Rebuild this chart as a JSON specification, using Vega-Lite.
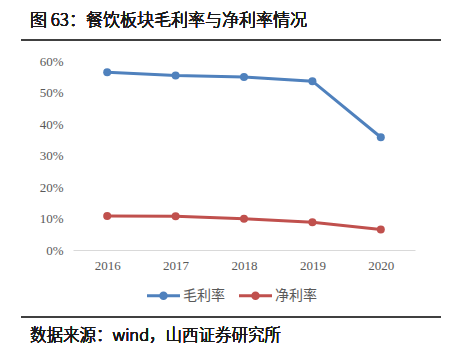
{
  "$schema": "https://vega.github.io/schema/vega-lite/v6.json",
  "autosize": {"type": "none"},
  "width": 342,
  "height": 189,
  "padding": {"left": 73, "top": 61, "right": 46, "bottom": 110},
  "background": "white",
  "config": {"view": {"stroke": null}, "axis": {"labelOverlap": false}},
  "data": {"values": [
    {"year": 2016, "series": "毛利率", "value": 0.564},
    {"year": 2017, "series": "毛利率", "value": 0.554},
    {"year": 2018, "series": "毛利率", "value": 0.549},
    {"year": 2019, "series": "毛利率", "value": 0.536},
    {"year": 2020, "series": "毛利率", "value": 0.358},
    {"year": 2016, "series": "净利率", "value": 0.108},
    {"year": 2017, "series": "净利率", "value": 0.107},
    {"year": 2018, "series": "净利率", "value": 0.099},
    {"year": 2019, "series": "净利率", "value": 0.088},
    {"year": 2020, "series": "净利率", "value": 0.065}
  ]},
  "encoding": {
    "x": {"field": "year", "type": "quantitative",
      "scale": {"domain": [2015.5, 2020.5], "nice": false, "zero": false},
      "axis": {"title": null, "values": [2016, 2017, 2018, 2019, 2020], "format": "d", "ticks": false, "tickSize": 0, "grid": false, "labelOverlap": false,
        "domainColor": "#d9d9d9", "domainWidth": 1, "labelFont": "Liberation Serif", "labelFontSize": 13, "labelColor": "#595959", "labelPadding": 9}},
    "y": {"field": "value", "type": "quantitative",
      "scale": {"domain": [0, 0.6], "nice": false},
      "axis": {"title": null, "values": [0, 0.1, 0.2, 0.3, 0.4, 0.5, 0.6], "tickCount": 7, "format": ".0%", "ticks": false, "tickSize": 0, "grid": false, "domain": false, "labelOverlap": false,
        "labelFont": "Liberation Serif", "labelFontSize": 13, "labelColor": "#595959", "labelPadding": 10}},
    "color": {"field": "series", "type": "nominal",
      "scale": {"domain": ["毛利率", "净利率"], "range": ["#4f81bd", "#c0504d"]},
      "legend": {"title": null, "orient": "none", "legendX": 74, "legendY": 218, "direction": "horizontal", "padding": 0,
        "symbolType": "M-1,-0.09L1,-0.09L1,0.09L-1,0.09Z M0.26,0A0.26,0.26 0 1,1 -0.26,0A0.26,0.26 0 1,1 0.26,0Z",
        "symbolSize": 1089, "symbolStrokeWidth": 0, "labelOffset": 3, "columnPadding": 14,
        "labelFont": "Noto Sans CJK SC", "labelFontSize": 14, "labelColor": "#595959",
        "encode": {"symbols": {"update": {"fill": {"scale": "color", "field": "value"}, "stroke": {"value": "transparent"}, "opacity": {"value": 1}}}}}}
  },
  "layer": [
    {"mark": {"type": "line", "strokeWidth": 3}},
    {"mark": {"type": "point", "filled": true, "size": 64, "opacity": 1}},
    {
      "mark": {"type": "rule", "color": "#404040", "strokeWidth": 1.5},
      "encoding": {"x": {"datum": 2014.74}, "x2": {"datum": 2020.88}, "y": {"datum": 0.6667}, "color": {"value": "#404040"}}
    },
    {
      "mark": {"type": "rule", "color": "#404040", "strokeWidth": 1.5},
      "encoding": {"x": {"datum": 2014.74}, "x2": {"datum": 2020.88}, "y": {"datum": -0.2127}, "color": {"value": "#404040"}}
    },
    {
      "mark": {"type": "text", "align": "left", "baseline": "middle", "font": "Noto Sans CJK SC", "fontSize": 17, "fontWeight": 300},
      "encoding": {"x": {"datum": 2014.871}, "y": {"datum": 0.727}, "color": {"value": "#1a1a1a"}, "text": {"value": "图 63：餐饮板块毛利率与净利率情况"}}
    },
    {
      "mark": {"type": "text", "align": "left", "baseline": "middle", "font": "Noto Sans CJK SC", "fontSize": 16.5, "fontWeight": 300},
      "encoding": {"x": {"datum": 2014.871}, "y": {"datum": -0.272}, "color": {"value": "#1a1a1a"}, "text": {"value": "数据来源：wind，山西证券研究所"}}
    }
  ]
}
